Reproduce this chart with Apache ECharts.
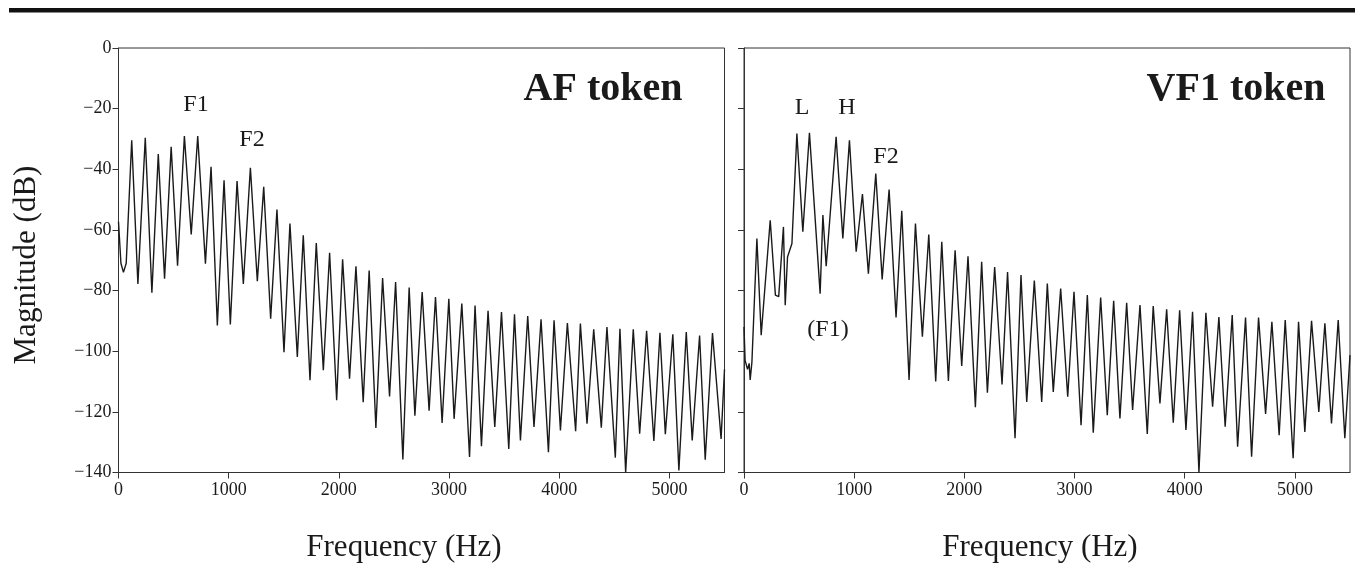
<!DOCTYPE html>
<html>
<head>
<meta charset="utf-8">
<title>AF / VF1 token spectra</title>
<script src="https://cdn.jsdelivr.net/npm/echarts@6/dist/echarts.min.js"></script>
<style>
  html, body { margin: 0; padding: 0; background: #fff; }
  #chart { width: 1355px; height: 582px; }
</style>
</head>
<body>
<div id="chart"></div>
<script>
// Spectral turning points (frequency in Hz, magnitude in dB): harmonic peaks and the dips between them.
const afSpectrum = [
  [0, -57.3], [22, -71], [45, -74], [70, -71],
  [120, -30.4], [176, -77.8], [243, -29.6], [303, -80.7], [361, -35.0], [418, -76.1],
  [478, -32.6], [536, -71.8], [598, -29.0], [660, -61.5], [719, -29.0], [789, -71.1],
  [840, -39.2], [897, -91.5], [958, -43.6], [1015, -91.2], [1076, -43.9], [1133, -77.8],
  [1197, -39.5], [1260, -76.9], [1318, -45.8], [1381, -89.3], [1438, -53.3], [1502, -100.3],
  [1556, -57.9], [1623, -101.9], [1677, -61.8], [1738, -109.6], [1795, -64.3], [1859, -106.3],
  [1916, -67.5], [1980, -116.2], [2034, -69.7], [2097, -109.1], [2155, -72.0], [2221, -116.8],
  [2275, -73.4], [2336, -125.3], [2397, -75.9], [2460, -114.9], [2515, -77.2], [2581, -135.7],
  [2638, -79.0], [2690, -121.3], [2756, -80.5], [2819, -119.6], [2877, -82.1], [2937, -123.7],
  [2998, -82.7], [3046, -122.3], [3116, -84.3], [3186, -134.9], [3236, -84.9], [3294, -131.3],
  [3354, -86.7], [3415, -125.0], [3476, -87.1], [3542, -132.2], [3594, -87.8], [3648, -129.4],
  [3714, -88.4], [3771, -125.0], [3835, -89.5], [3902, -133.3], [3953, -89.8], [4011, -126.1],
  [4074, -90.7], [4149, -126.4], [4192, -90.9], [4252, -123.9], [4313, -92.8], [4382, -125.2],
  [4433, -92.0], [4509, -135.1], [4551, -92.6], [4603, -140], [4672, -92.8], [4730, -127.2],
  [4793, -93.3], [4859, -129.6], [4914, -93.9], [4963, -127.4], [5031, -94.4], [5086, -139.3],
  [5153, -93.7], [5207, -129.4], [5274, -94.8], [5325, -135.8], [5391, -94.0], [5469, -128.9],
  [5500, -106]
];

const vfSpectrum = [
  [0, -92], [10, -103], [32, -106], [47, -104], [56, -109.5], [72, -103.5],
  [117, -62.8], [156, -94.7], [238, -56.8], [285, -81.5], [315, -82], [358, -59.0],
  [374, -84.8], [395, -68.9], [435, -64.5], [480, -28.2], [534, -60.6], [594, -28.0],
  [691, -81], [716, -55.1], [746, -72], [836, -29.3], [897, -62.8], [957, -30.4],
  [1018, -67.2], [1075, -48.2], [1129, -74.4], [1196, -41.4], [1254, -76.3], [1317, -46.7],
  [1380, -88.9], [1432, -53.7], [1498, -109.5], [1556, -57.9], [1619, -95.2], [1677, -61.5],
  [1740, -110], [1795, -63.9], [1855, -109.8], [1916, -66.7], [1976, -104.9], [2033, -68.7],
  [2100, -118.5], [2157, -70.5], [2209, -113.7], [2275, -72.2], [2342, -111], [2392, -73.9],
  [2460, -128.7], [2514, -74.9], [2566, -116.7], [2635, -76.7], [2702, -116.7], [2753, -77.7],
  [2807, -113.4], [2874, -79.3], [2938, -115.0], [2995, -80.4], [3059, -124.4], [3116, -81.5],
  [3170, -126.9], [3237, -82.3], [3297, -121.1], [3355, -83.4], [3412, -122.2], [3473, -84.0],
  [3527, -119.4], [3594, -84.8], [3660, -127.3], [3714, -85.1], [3775, -117.2], [3836, -86.2],
  [3896, -123.6], [3954, -86.5], [4011, -126.0], [4071, -87.0], [4129, -140], [4192, -87.3],
  [4253, -118.3], [4310, -88.7], [4367, -124.9], [4431, -88.1], [4480, -131.5], [4552, -88.9],
  [4607, -134.8], [4670, -88.9], [4734, -120.7], [4791, -90.3], [4857, -127.7], [4912, -89.7],
  [4984, -135.3], [5033, -90.3], [5090, -126.6], [5151, -90.0], [5217, -120.0], [5272, -90.8],
  [5332, -123.8], [5393, -89.7], [5453, -128.7], [5500, -101.3]
];

// Axis ranges and tick values
const freqTicks = [0, 1000, 2000, 3000, 4000, 5000];
const freqRange = [0, 5500];
const magRange = [-140, 0];
const magStep = 20;

// Text drawn on the figure
const panelTitles = ['AF token', 'VF1 token'];
const yAxisTitle = 'Magnitude (dB)';
const xAxisTitle = 'Frequency (Hz)';
const afMarks = ['F1', 'F2'];
const vfMarks = ['L', 'H', 'F2', '(F1)'];

const SERIF = '"Liberation Serif", "Times New Roman", "DejaVu Serif", serif';
const INK = '#1a1a1a';

const chart = echarts.init(document.getElementById('chart'), null, { renderer: 'canvas' });

function xAxisFor(gridIndex) {
  return {
    type: 'value', gridIndex: gridIndex,
    min: freqRange[0], max: freqRange[1],
    axisLine: { show: true, onZero: false, lineStyle: { color: '#333', width: 1 } },
    axisTick: { show: true, length: 6, customValues: freqTicks, lineStyle: { color: '#333', width: 1 } },
    axisLabel: { show: true, customValues: freqTicks, margin: 9, color: INK,
                 fontFamily: SERIF, fontSize: 18, formatter: v => String(v) },
    splitLine: { show: false }
  };
}

function yAxisFor(gridIndex, showLabels) {
  return {
    type: 'value', gridIndex: gridIndex,
    min: magRange[0], max: magRange[1], interval: magStep,
    axisLine: { show: true, onZero: false, lineStyle: { color: '#333', width: 1 } },
    axisTick: { show: true, length: 6, lineStyle: { color: '#333', width: 1 } },
    axisLabel: { show: showLabels, margin: 7, color: INK, fontFamily: SERIF, fontSize: 18,
                 formatter: v => String(v).replace('-', '\u2212') },
    splitLine: { show: false }
  };
}

function spectrumSeries(data, idx) {
  return {
    type: 'line', xAxisIndex: idx, yAxisIndex: idx,
    data: data, showSymbol: false, symbol: 'none', clip: true,
    lineStyle: { color: INK, width: 1.4 },
    animation: false
  };
}

function label(text, x, y, size, weight) {
  return {
    type: 'text', x: x, y: y, z: 10,
    style: { text: text, fill: INK, font: (weight || 'normal') + ' ' + size + 'px ' + SERIF,
             align: 'center', verticalAlign: 'middle' }
  };
}

chart.setOption({
  animation: false,
  backgroundColor: '#fff',
  grid: [
    { left: 118.5, top: 48, width: 606, height: 424.5, show: true, borderColor: '#333', borderWidth: 1, backgroundColor: 'transparent' },
    { left: 744, top: 48, width: 606, height: 424.5, show: true, borderColor: '#333', borderWidth: 1, backgroundColor: 'transparent' }
  ],
  xAxis: [xAxisFor(0), xAxisFor(1)],
  yAxis: [yAxisFor(0, true), yAxisFor(1, false)],
  series: [spectrumSeries(afSpectrum, 0), spectrumSeries(vfSpectrum, 1)],
  graphic: [
    { type: 'rect', shape: { x: 9, y: 8, width: 1346, height: 4.5 }, style: { fill: '#111' } },
    label(panelTitles[0], 603, 90, 40, 'bold'),
    label(panelTitles[1], 1236, 90, 40, 'bold'),
    label(afMarks[0], 196, 105, 24),
    label(afMarks[1], 252, 140, 24),
    label(vfMarks[0], 802, 108, 24),
    label(vfMarks[1], 847, 108, 24),
    label(vfMarks[2], 886, 157, 24),
    label(vfMarks[3], 828, 330, 24),
    label(xAxisTitle, 404, 548, 31),
    label(xAxisTitle, 1040, 548, 31),
    {
      type: 'text', x: 27, y: 265, rotation: Math.PI / 2, z: 10,
      style: { text: yAxisTitle, fill: INK, font: 'normal 31px ' + SERIF, align: 'center', verticalAlign: 'middle' }
    }
  ]
});
</script>
</body>
</html>
